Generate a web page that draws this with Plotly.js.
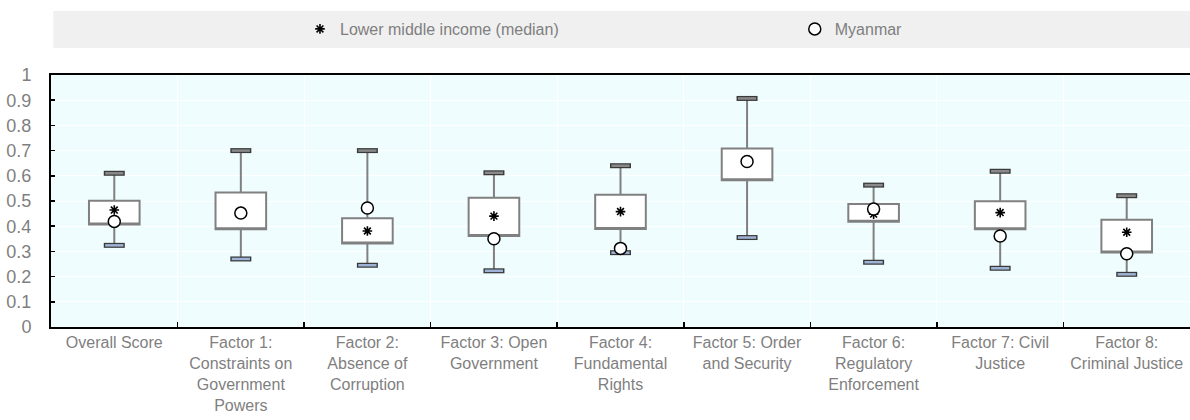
<!DOCTYPE html>
<html>
<head>
<meta charset="utf-8">
<script src="https://cdn.plot.ly/plotly-3.0.1.min.js"></script>
<style>html,body{margin:0;padding:0;background:#fff;}#chart{width:1190px;height:420px;}</style>
</head>
<body>
<div id="chart"></div>
<script>
const categories = [
  "Overall Score",
  "Factor 1:<br>Constraints on<br>Government<br>Powers",
  "Factor 2:<br>Absence of<br>Corruption",
  "Factor 3: Open<br>Government",
  "Factor 4:<br>Fundamental<br>Rights",
  "Factor 5: Order<br>and Security",
  "Factor 6:<br>Regulatory<br>Enforcement",
  "Factor 7: Civil<br>Justice",
  "Factor 8:<br>Criminal Justice"
];
const whiskerLow  = [0.324, 0.270, 0.245, 0.223, 0.295, 0.355, 0.257, 0.233, 0.209];
const boxLow      = [0.407, 0.388, 0.331, 0.361, 0.389, 0.582, 0.418, 0.388, 0.296];
const boxHigh     = [0.501, 0.534, 0.432, 0.513, 0.525, 0.708, 0.488, 0.499, 0.426];
const whiskerHigh = [0.610, 0.700, 0.700, 0.612, 0.640, 0.907, 0.563, 0.618, 0.521];
const incomeMedian = [0.464, 0.458, 0.381, 0.440, 0.458, 0.660, 0.448, 0.454, 0.376];
const myanmar      = [0.419, 0.452, 0.472, 0.350, 0.312, 0.657, 0.468, 0.361, 0.291];
const seriesNames = ["Lower middle income (median)", "Myanmar"];

const font = "Liberation Sans, Arial, sans-serif";
const grey = "#7f7f7f";

const traces = [
  {
    type: "box", x: categories, q1: boxLow, median: boxLow, q3: boxHigh,
    lowerfence: whiskerLow, upperfence: whiskerHigh,
    width: 0.4, whiskerwidth: 0, fillcolor: "#ffffff",
    line: {color: "#808080", width: 2}, showlegend: false, hoverinfo: "skip"
  },
  { type: "scatter", mode: "markers", x: categories, y: whiskerHigh, showlegend: false, hoverinfo: "skip",
    marker: {symbol: "line-ew", size: 15, line: {width: 5, color: "#3a3a3a"}} },
  { type: "scatter", mode: "markers", x: categories, y: whiskerHigh, showlegend: false, hoverinfo: "skip",
    marker: {symbol: "line-ew", size: 13, line: {width: 2.5, color: "#8a8a8a"}} },
  { type: "scatter", mode: "markers", x: categories, y: whiskerLow, showlegend: false, hoverinfo: "skip",
    marker: {symbol: "line-ew", size: 15, line: {width: 5, color: "#3a3a3a"}} },
  { type: "scatter", mode: "markers", x: categories, y: whiskerLow, showlegend: false, hoverinfo: "skip",
    marker: {symbol: "line-ew", size: 13, line: {width: 2.5, color: "#9fb3d6"}} },
  { type: "scatter", mode: "markers", name: seriesNames[0], x: categories, y: incomeMedian, legend: "legend",
    marker: {symbol: "asterisk-open", size: 8, color: "#000", line: {width: 1.6, color: "#000"}} },
  { type: "scatter", mode: "markers", name: seriesNames[1], x: categories, y: myanmar, legend: "legend2",
    marker: {symbol: "circle", size: 12, color: "#ffffff", line: {width: 1.5, color: "#000"}} }
];

const layout = {
  width: 1190, height: 420,
  margin: {l: 51, r: 0, t: 75, b: 93},
  paper_bgcolor: "#ffffff", plot_bgcolor: "#f0fdfe",
  font: {family: font, size: 16, color: grey},
  xaxis: {
    type: "category", tickson: "boundaries", ticks: "inside", ticklen: 5, tickwidth: 1.5, tickcolor: "#000",
    showline: true, linecolor: "#000", linewidth: 2, mirror: true,
    showgrid: true, gridcolor: "#ffffff", gridwidth: 1,
    tickfont: {family: font, size: 16, color: grey}, ticklabelstandoff: 0,
    range: [-0.5, 8.5], fixedrange: true
  },
  yaxis: {
    range: [0, 1], dtick: 0.1, tick0: 0, ticks: "inside", ticklen: 4, tickwidth: 1.5, tickcolor: "#000",
    showline: true, linecolor: "#000", linewidth: 2,
    showgrid: true, gridcolor: "#ffffff", gridwidth: 1, zeroline: false,
    tickfont: {family: font, size: 18, color: grey}, ticklabelstandoff: 14, fixedrange: true
  },
  shapes: [{
    type: "rect", xref: "paper", yref: "paper", x0: 0.002, x1: 1, y0: 1.107, y1: 1.254,
    fillcolor: "#f0f0f0", line: {width: 0}, layer: "below"
  }],
  legend: {orientation: "h", x: 0.2186, xanchor: "left", y: 1.1825, yanchor: "middle",
    bgcolor: "rgba(0,0,0,0)", font: {family: font, size: 16, color: grey}, itemwidth: 30},
  legend2: {orientation: "h", x: 0.653, xanchor: "left", y: 1.1825, yanchor: "middle",
    bgcolor: "rgba(0,0,0,0)", font: {family: font, size: 16, color: grey}, itemwidth: 30},
  showlegend: true
};

Plotly.newPlot("chart", traces, layout, {displayModeBar: false, staticPlot: true});
</script>
</body>
</html>
